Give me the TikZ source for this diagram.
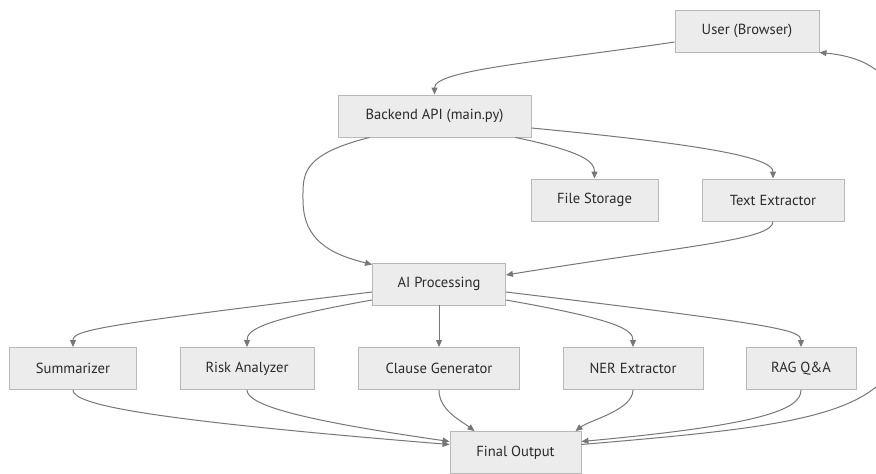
\documentclass[tikz,border=0pt]{standalone}
\usepackage{fontspec}
\setmainfont{PT Sans}
\usetikzlibrary{arrows.meta,calc}
\definecolor{boxfill}{HTML}{ECECEC}
\definecolor{boxline}{HTML}{B8B8B8}
\definecolor{edgecol}{HTML}{777777}
\definecolor{txtcol}{HTML}{2A2A2A}
\begin{document}
\begin{tikzpicture}[x=1pt,y=-1pt,
  box/.style={draw=boxline,fill=boxfill,line width=0.9pt,minimum height=42pt,inner sep=0pt,
    text=txtcol,font=\fontsize{14.6}{16}\selectfont},
  edge/.style={draw=edgecol,line width=1pt,-{Triangle[length=7pt,width=6pt]}}]
\useasboundingbox (0,0) rectangle (876,474);
\clip (0,0) rectangle (876,474);
\fill[white] (0,0) rectangle (876,474);
\node[box,minimum width=144pt] (user) at (747,31) {User (Browser)};
\node[box,minimum width=193pt] (backend) at (434.5,116) {Backend API (main.py)};
\node[box,minimum width=127pt] (fs) at (594.5,200) {File Storage};
\node[box,minimum width=142pt] (te) at (773,200) {Text Extractor};
\node[box,minimum width=133pt] (ai) at (439,284) {AI Processing};
\node[box,minimum width=127pt] (summ) at (73,368.5) {Summarizer};
\node[box,minimum width=134pt] (risk) at (247,368.5) {Risk Analyzer};
\node[box,minimum width=161pt] (clause) at (439,368.5) {Clause Generator};
\node[box,minimum width=140pt] (ner) at (633,368.5) {NER Extractor};
\node[box,minimum width=110pt] (rag) at (801,368.5) {RAG Q\&A};
\node[box,minimum width=131pt] (final) at (515.5,452.5) {Final Output};

\draw[edge] ($(user.west)+(0,11)$) .. controls (540,62) and (434.5,70) .. (backend.north);
\draw[edge] ($(backend.south west)+(32,0)$) .. controls (300,155) and (303,175) .. (303,200)
   .. controls (303,240) and (330,254) .. ($(ai.north west)+(0,2)$);
\draw[edge] ($(backend.south east)+(-16,0)$) .. controls (585,152) and (594.5,162) .. (fs.north);
\draw[edge] ($(backend.east)+(0,12)$) .. controls (710,145) and (773,158) .. (te.north);
\draw[edge] (te.south) .. controls (773,240) and (690,245) .. ($(ai.east)+(0,-9)$);
\draw[edge] ($(ai.west)+(0,8)$) .. controls (100,325) and (73,330) .. (summ.north);
\draw[edge] ($(ai.west)+(0,16)$) .. controls (260,320) and (247,330) .. (risk.north);
\draw[edge] (ai.south) -- (clause.north);
\draw[edge] ($(ai.east)+(0,16)$) .. controls (620,320) and (633,330) .. (ner.north);
\draw[edge] ($(ai.east)+(0,8)$) .. controls (780,325) and (801,330) .. (rag.north);
\draw[edge] (summ.south) .. controls (73,405) and (150,420) .. ($(final.west)+(0,-8)$);
\draw[edge] (risk.south) .. controls (247,405) and (300,420) .. ($(final.west)+(0,-11)$);
\draw[edge] (clause.south) .. controls (439,410) and (460,420) .. ($(final.north west)+(25,0)$);
\draw[edge] (ner.south) .. controls (633,410) and (590,420) .. ($(final.north east)+(-6,0)$);
\draw[edge] (rag.south) .. controls (801,410) and (760,425) .. ($(final.east)+(0,-11)$);
\draw[edge] ($(final.east)+(0,-8)$) .. controls (810,425) and (905,415) .. (905,320)
   -- (905,150) .. controls (905,80) and (875,58) .. (user.south east);
\end{tikzpicture}
\end{document}
